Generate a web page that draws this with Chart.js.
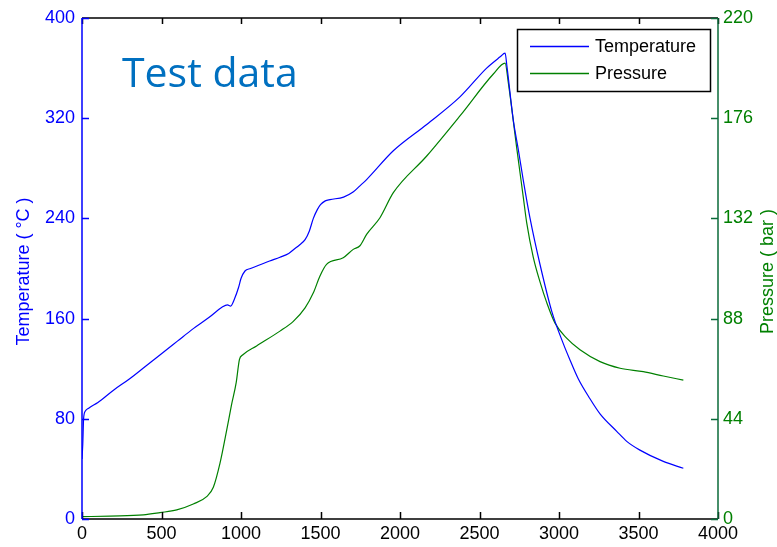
<!DOCTYPE html>
<html><head><meta charset="utf-8">
<script src="https://cdn.jsdelivr.net/npm/chart.js@4.4.0/dist/chart.umd.min.js"></script>
<style>html,body{margin:0;padding:0;background:#fff;overflow:hidden}#wrap{width:777px;height:547px}</style>
</head><body><div id="wrap"><canvas id="c" width="777" height="547"></canvas></div>
<script>
// ---- data ----
const tempX=[0,5,10,20,42,100,200,300,400,500,600,700,800,880,915,935,960,985,1000,1025,1060,1120,1180,1245,1300,1330,1370,1403,1430,1455,1480,1500,1530,1560,1645,1705,1748,1790,1958,2168,2377,2545,2630,2661,2672,2713,2744,2776,2818,2881,2954,3027,3069,3121,3195,3258,3363,3426,3509,3656,3782];
const tempY=[48,60,80,86,88.5,93,103,112,122,132,142,152,161,169,171,170,176,185,192,198,200,203,206,209,212,215,219,223,230,240,247,251,254,255,257,261,266,271,294,315,337,360,369,372,362,318,295,270,240,203,166,140,127,112,96,84,70,62,55,46,40.5];
const presX=[0,176,386,491,596,700,784,826,868,910,940,970,990,1010,1098,1245,1329,1403,1455,1496,1538,1643,1706,1748,1790,1874,1958,2168,2377,2587,2661,2681,2734,2776,2797,2838,2881,2923,2975,3048,3132,3258,3384,3530,3656,3782];
const presY=[1.0,1.3,1.8,2.8,4,6.6,9.8,13.9,24.5,39,50,60,70,72,76,82.5,86.8,92.7,99.3,106.6,111.8,114.7,118.4,120,125,132.3,143.3,159.4,177,195.4,200.2,191.7,163,141,130,115,104,95,86,79.4,74.3,69.1,66.2,64.7,62.8,61];
const xTicks=[0,500,1000,1500,2000,2500,3000,3500,4000];
const tempTicks=[0,80,160,240,320,400];
const presTicks=[0,44,88,132,176,220];
const seriesNames=['Temperature','Pressure'];
const axisTitles=['Temperature ( \u00B0C )','Pressure ( bar )'];
const noteText='Test data';

const BLUE='#0000ff', GREEN='#008000', GREEN_AX='#0b6b3a';
const FONT='"Liberation Sans", Arial, sans-serif';

const pts=(xs,ys)=>xs.map((x,i)=>({x:x,y:ys[i]}));

const framePlugin={
  id:'frame',
  beforeDatasetsDraw(chart){
    const ctx=chart.ctx, a=chart.chartArea;
    ctx.save();
    ctx.font='41px "Open Sans", sans-serif';
    ctx.fillStyle='#0070c0';
    ctx.textBaseline='alphabetic';
    ctx.textAlign='left';
    ctx.fillText(noteText, a.left+40, 87);
    ctx.restore();
  },
  afterDraw(chart){
    const ctx=chart.ctx, a=chart.chartArea;
    const sx=chart.scales.x, sy=chart.scales.y, sy2=chart.scales.y2;
    ctx.save();
    ctx.lineWidth=1.5;
    ctx.strokeStyle='#000';
    ctx.beginPath();
    ctx.moveTo(a.left,a.top);ctx.lineTo(a.right,a.top);
    ctx.moveTo(a.left,a.bottom);ctx.lineTo(a.right,a.bottom);
    ctx.stroke();
    ctx.beginPath();
    xTicks.forEach(v=>{const p=Math.round(sx.getPixelForValue(v))+0.5;
      ctx.moveTo(p,a.bottom);ctx.lineTo(p,a.bottom-7);
      ctx.moveTo(p,a.top);ctx.lineTo(p,a.top+6);});
    ctx.stroke();
    ctx.strokeStyle=BLUE;
    ctx.beginPath();
    ctx.moveTo(a.left,a.top);ctx.lineTo(a.left,a.bottom);
    tempTicks.forEach(v=>{const p=Math.round(sy.getPixelForValue(v))+0.5;
      ctx.moveTo(a.left,p);ctx.lineTo(a.left+7,p);});
    ctx.stroke();
    ctx.strokeStyle=GREEN_AX;
    ctx.beginPath();
    ctx.moveTo(a.right,a.top);ctx.lineTo(a.right,a.bottom);
    presTicks.forEach(v=>{const p=Math.round(sy2.getPixelForValue(v))+0.5;
      ctx.moveTo(a.right,p);ctx.lineTo(a.right-7,p);});
    ctx.stroke();
    const cy=(a.top+a.bottom)/2+3;
    ctx.font='18px '+FONT;
    ctx.textAlign='center';ctx.textBaseline='middle';
    ctx.fillStyle=BLUE;
    ctx.save();ctx.translate(24,cy);ctx.rotate(-Math.PI/2);ctx.fillText(axisTitles[0],0,0);ctx.restore();
    ctx.fillStyle=GREEN;
    ctx.save();ctx.translate(768,cy);ctx.rotate(-Math.PI/2);ctx.fillText(axisTitles[1],0,0);ctx.restore();
    const lx=517, ly=29, lw=193, lh=62;
    ctx.fillStyle='#fff';ctx.fillRect(lx,ly,lw,lh);
    ctx.strokeStyle='#000';ctx.lineWidth=1.5;ctx.strokeRect(lx+0.5,ly+0.5,lw,lh);
    chart.data.datasets.forEach((ds,i)=>{
      const yy=46+i*27;
      ctx.strokeStyle=ds.borderColor;ctx.lineWidth=1.3;
      ctx.beginPath();ctx.moveTo(530,yy+0.5);ctx.lineTo(589,yy+0.5);ctx.stroke();
      ctx.fillStyle='#000';ctx.textAlign='left';ctx.textBaseline='middle';
      ctx.font='18px '+FONT;
      ctx.fillText(ds.label,595,yy+1);
    });
    ctx.restore();
  }
};

new Chart(document.getElementById('c'),{
  type:'line',
  data:{datasets:[
    {label:seriesNames[0],data:pts(tempX,tempY),yAxisID:'y',borderColor:BLUE,borderWidth:1.2,pointRadius:0,cubicInterpolationMode:'monotone',fill:false},
    {label:seriesNames[1],data:pts(presX,presY),yAxisID:'y2',borderColor:GREEN,borderWidth:1.2,pointRadius:0,cubicInterpolationMode:'monotone',fill:false}
  ]},
  options:{
    responsive:false,animation:false,devicePixelRatio:1,
    layout:{padding:{top:18,left:0,right:0,bottom:0}},
    plugins:{legend:{display:false},tooltip:{enabled:false},title:{display:false}},
    scales:{
      x:{type:'linear',min:0,max:4000,
        afterBuildTicks:s=>{s.ticks=xTicks.map(v=>({value:v}));},
        ticks:{color:'#000',font:{family:FONT,size:18},padding:4,maxRotation:0,autoSkip:false,callback:v=>String(v)},
        grid:{display:false,drawTicks:false},border:{display:false},
        afterFit:s=>{s.height=28;}},
      y:{position:'left',min:0,max:400,
        afterBuildTicks:s=>{s.ticks=tempTicks.map(v=>({value:v}));},
        ticks:{color:BLUE,font:{family:FONT,size:18},padding:7,callback:v=>String(v)},
        grid:{display:false,drawTicks:false},border:{display:false},
        afterFit:s=>{s.width=82;}},
      y2:{position:'right',min:0,max:220,
        afterBuildTicks:s=>{s.ticks=presTicks.map(v=>({value:v}));},
        ticks:{color:GREEN,font:{family:FONT,size:18},padding:5,callback:v=>String(v)},
        grid:{display:false,drawTicks:false},border:{display:false},
        afterFit:s=>{s.width=59;}}
    }
  },
  plugins:[framePlugin]
});
</script></body></html>
